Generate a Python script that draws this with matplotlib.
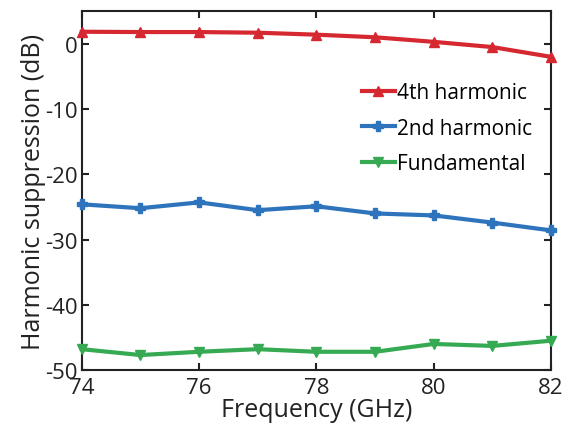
import matplotlib
matplotlib.use("Agg")
import matplotlib.pyplot as plt

freq = [74, 75, 76, 77, 78, 79, 80, 81, 82]
fourth = [1.85, 1.8, 1.8, 1.7, 1.4, 1.0, 0.3, -0.5, -2.0]
second = [-24.6, -25.2, -24.3, -25.5, -24.9, -26.0, -26.3, -27.4, -28.6]
fundamental = [-46.8, -47.7, -47.2, -46.8, -47.2, -47.2, -46.0, -46.3, -45.5]

plt.rcParams['font.family'] = ['Open Sans', 'DejaVu Sans']
plt.rcParams['axes.unicode_minus'] = False

fig = plt.figure(figsize=(5.64, 4.35), dpi=100)
ax = fig.add_axes([0.145, 0.147, 0.832, 0.825])

# markers at 74 and 82 sit on the frame, so don't clip them
ax.plot(freq, fourth, color='#d62831', lw=3, marker='^', ms=7, label='4th harmonic', clip_on=False, zorder=3)
ax.plot(freq, second, color='#2e74bd', lw=3, marker='P', ms=7, label='2nd harmonic', clip_on=False, zorder=3)
ax.plot(freq, fundamental, color='#36aa52', lw=3, marker='v', ms=7, label='Fundamental', clip_on=False, zorder=3)

ax.set_xlim(74, 82)
ax.set_ylim(-50, 5)
ax.set_xticks([74, 76, 78, 80, 82])
ax.set_yticks([0, -10, -20, -30, -40, -50])
ax.tick_params(direction='in', top=True, right=True, labelsize=16, length=5, width=1.5, pad=3, colors='#222222')
ax.tick_params(axis='x', pad=5)
for s in ax.spines.values():
    s.set_linewidth(1.5)
    s.set_color('#222222')

ax.set_xlabel('Frequency (GHz)', fontsize=18, labelpad=-1, color='#222222')
ax.set_ylabel('Harmonic suppression (dB)', fontsize=18, labelpad=-1, color='#222222')

ax.legend(loc='upper right', bbox_to_anchor=(1.0, 0.855), frameon=False, fontsize=15,
          handlelength=1.6, handletextpad=0.1, labelspacing=0.7)

fig.savefig('out.png', dpi=100)
